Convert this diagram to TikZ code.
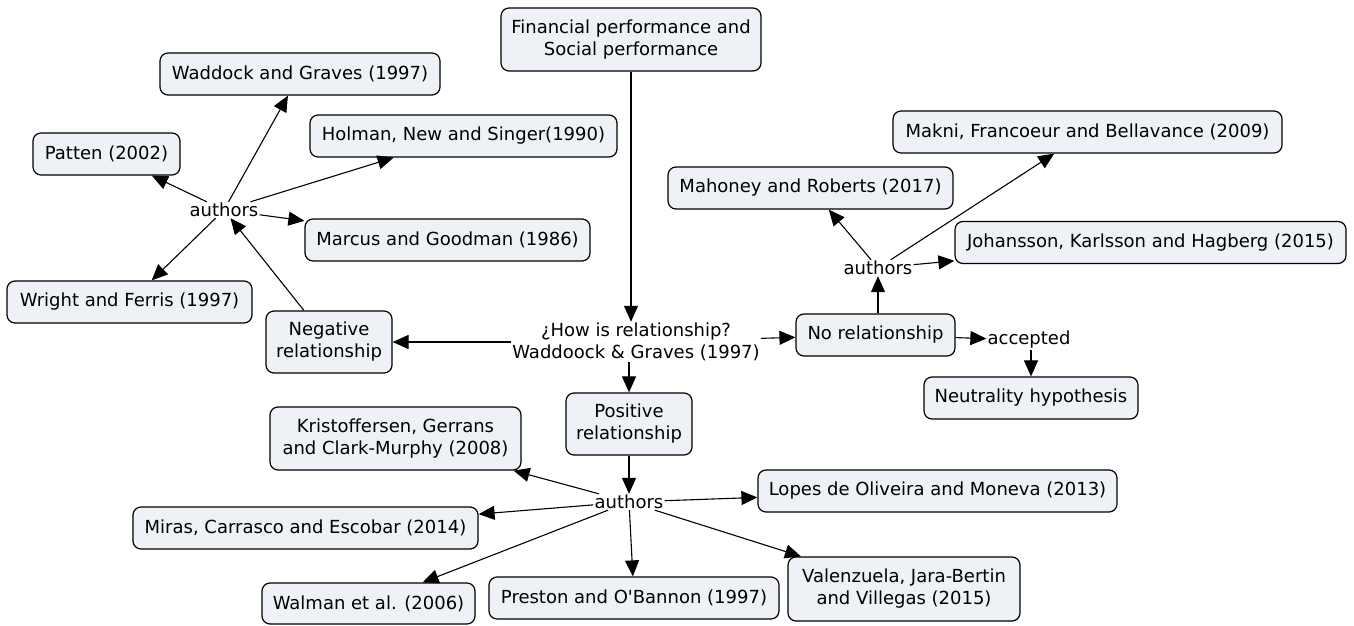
\documentclass[tikz,border=0pt]{standalone}
\usepackage{fontspec}
\setmainfont{DejaVu Sans}
\usetikzlibrary{arrows.meta}
\definecolor{boxfill}{HTML}{EEF1F6}
\tikzset{
  box/.style={draw=black, line width=1.2pt, rounded corners=8pt, fill=boxfill,
    inner sep=0pt, align=center, font=\fontsize{18}{22}\selectfont},
  phrase/.style={inner sep=1pt, align=center, font=\fontsize{18}{22}\selectfont, fill=white},
  conn/.style={line width=1.1pt, -{Triangle[length=16pt,width=14pt]}}
}
\begin{document}
\begin{tikzpicture}[x=1pt,y=-1pt]
\useasboundingbox[fill=white] (0,0) rectangle (1354,626);
% boxes
\node[box, minimum width=260pt, minimum height=63pt] (fin) at (631,39.5) {Financial performance and\\Social performance};
\node[box, minimum width=280pt, minimum height=42pt] (wad) at (300,74) {Waddock and Graves (1997)};
\node[box, minimum width=307pt, minimum height=42pt] (hol) at (463.5,136) {Holman, New and Singer(1990)};
\node[box, minimum width=147pt, minimum height=42pt] (pat) at (106.5,154) {Patten (2002)};
\node[box, minimum width=285pt, minimum height=42pt] (mar) at (447.5,240) {Marcus and Goodman (1986)};
\node[box, minimum width=245pt, minimum height=42pt] (wri) at (129.5,302) {Wright and Ferris (1997)};
\node[box, minimum width=126pt, minimum height=62pt] (neg) at (329,342) {Negative\\relationship};
\node[phrase, fill=none] (how) at (636,342) {¿How is relationship?\\Waddoock \& Graves (1997)};
\node[box, minimum width=159pt, minimum height=42pt] (nor) at (875.5,335) {No relationship};
\node[phrase] (acc) at (1029,340) {accepted};
\node[box, minimum width=214pt, minimum height=42pt] (neu) at (1031,398) {Neutrality hypothesis};
\node[phrase] (autR) at (878,268) {authors};
\node[box, minimum width=285pt, minimum height=42pt] (mah) at (810.5,188) {Mahoney and Roberts (2017)};
\node[box, minimum width=389pt, minimum height=42pt] (mak) at (1087.5,132) {Makni, Francoeur and Bellavance (2009)};
\node[box, minimum width=391pt, minimum height=42pt] (joh) at (1150.5,242.5) {Johansson, Karlsson and Hagberg (2015)};
\node[box, minimum width=126pt, minimum height=62pt] (pos) at (629,424) {Positive\\relationship};
\node[phrase] (autB) at (629,502) {authors};
\node[box, minimum width=251pt, minimum height=63pt] (kri) at (395.5,438.5) {Kristoffersen, Gerrans\\and Clark-Murphy (2008)};
\node[box, minimum width=359pt, minimum height=42pt] (lop) at (937.5,491) {Lopes de Oliveira and Moneva (2013)};
\node[box, minimum width=345pt, minimum height=42pt] (mir) at (305.5,528) {Miras, Carrasco and Escobar (2014)};
\node[box, minimum width=213pt, minimum height=41pt] (wal) at (368.5,603.5) {Walman et al. (2006)};
\node[box, minimum width=290pt, minimum height=42pt] (pre) at (634,598) {Preston and O\textquotesingle Bannon (1997)};
\node[box, minimum width=232pt, minimum height=64pt] (val) at (904,589) {Valenzuela, Jara-Bertin\\and Villegas (2015)};
\node[phrase] (autL) at (224,210) {authors};
% connectors
\draw[conn] (fin.south) -- (how.north -| fin.south);
\draw[conn] (how) -- (neg);
\draw[conn] (how) -- (nor);
\draw[conn] (how.south -| pos.north) -- (pos.north);
\draw[conn] (neg) -- (autL);
\draw[conn] (autL) -- (wad);
\draw[conn] (autL) -- (hol);
\draw[conn] (autL) -- (pat);
\draw[conn] (autL) -- (mar);
\draw[conn] (autL) -- (wri);
\draw[conn] (nor.north -| autR) -- (autR);
\draw[conn] (autR) -- (mah);
\draw[conn] (autR) -- (mak);
\draw[conn] (autR) -- (joh);
\draw[conn] (nor) -- (acc);
\draw[conn] (acc.south -| neu.north) -- (neu.north);
\draw[conn] (pos.south) -- (autB.north -| pos.south);
\draw[conn] (autB) -- (kri);
\draw[conn] (autB) -- (mir);
\draw[conn] (autB) -- (wal);
\draw[conn] (autB) -- (pre);
\draw[conn] (autB) -- (val);
\draw[conn] (autB) -- (lop);
\end{tikzpicture}
\end{document}
